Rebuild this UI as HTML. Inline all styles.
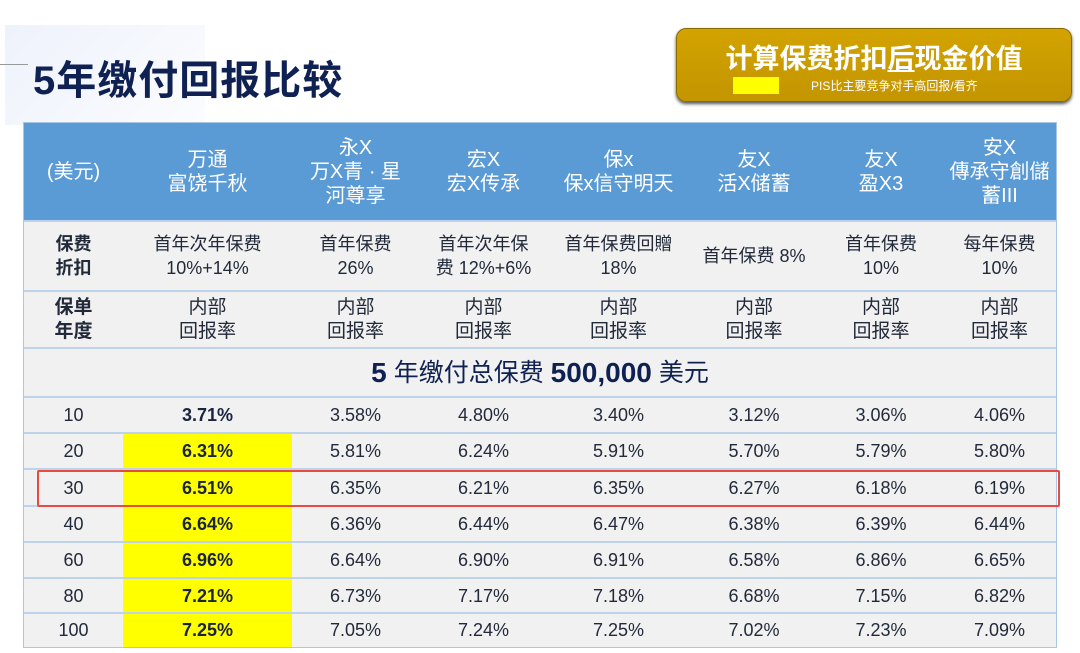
<!DOCTYPE html>
<html><head><meta charset="utf-8">
<style>
body{margin:0;width:1080px;height:653px;background:#fff;position:relative;overflow:hidden;font-family:"Liberation Sans","Noto Sans CJK SC",sans-serif;}
.bgdeco{position:absolute;left:5px;top:25px;width:200px;height:100px;background:linear-gradient(135deg,#eef2fb,#fbfcff);}
#title{position:absolute;left:33px;top:48px;font-size:40px;font-weight:bold;color:#0f2152;letter-spacing:1px;}
#btn{position:absolute;left:676px;top:28px;width:394px;height:72px;border-radius:10px;background:linear-gradient(#d3a300,#c39500);box-shadow:0 2px 3px #555;border:1px solid #8a6a00;}
#btn .t{position:absolute;left:0;width:100%;top:8px;text-align:center;color:#fff;font-size:27px;font-weight:bold;}
#btn .sw{position:absolute;left:56px;top:48px;width:46px;height:17px;background:#ffff00;}
#btn .s{position:absolute;left:134px;top:48px;color:#fff;font-size:12px;}
#tbl{position:absolute;left:23px;top:122px;width:1032px;height:524px;background:#f1f1f1;border:1px solid #a9c6e4;}
.cell{position:absolute;text-align:center;display:flex;align-items:center;justify-content:center;line-height:24px;color:#222a3a;font-size:18px;}
.hline{position:absolute;left:0;width:1032px;height:2px;background:#bcd3ea;}
</style></head><body>
<div class="bgdeco"></div>
<div style="position:absolute;left:0;top:64px;width:28px;height:1px;background:#999"></div>
<div id="title">5年缴付回报比较</div>
<div id="btn">
 <div class="t">计算保费折扣<u>后</u>现金价值</div>
 <div class="sw"></div>
 <div class="s">PIS比主要竞争对手高回报/看齐</div>
</div>
<div id="tbl">
 <div style="position:absolute;left:0;top:0;width:1032px;height:98px;background:#5b9bd5"></div>
 <div style="position:absolute;left:99px;top:310px;width:169px;height:214px;background:#ffff00"></div>
</div>
<div style="position:absolute;left:37px;top:470px;width:1019px;height:33px;border:2px solid #e84a3f;border-radius:2px"></div>
<script>
const products=["(美元)","万通<br>富饶千秋","永X<br>万X青 · 星<br>河尊享","宏X<br>宏X传承","保x<br>保x信守明天","友X<br>活X储蓄","友X<br>盈X3","安X<br>傳承守創儲<br>蓄III"];
const discounts=["<b>保费<br>折扣</b>","首年次年保费<br>10%+14%","首年保费<br>26%","首年次年保<br>费 12%+6%","首年保费回贈<br>18%","首年保费 8%","首年保费<br>10%","每年保费<br>10%"];
const irrLabels=["<b>保单<br>年度</b>","内部<br>回报率","内部<br>回报率","内部<br>回报率","内部<br>回报率","内部<br>回报率","内部<br>回报率","内部<br>回报率"];
const years=["10","20","30","40","60","80","100"];
const returns=[
["3.71%","3.58%","4.80%","3.40%","3.12%","3.06%","4.06%"],
["6.31%","5.81%","6.24%","5.91%","5.70%","5.79%","5.80%"],
["6.51%","6.35%","6.21%","6.35%","6.27%","6.18%","6.19%"],
["6.64%","6.36%","6.44%","6.47%","6.38%","6.39%","6.44%"],
["6.96%","6.64%","6.90%","6.91%","6.58%","6.86%","6.65%"],
["7.21%","6.73%","7.17%","7.18%","6.68%","7.15%","6.82%"],
["7.25%","7.05%","7.24%","7.25%","7.02%","7.23%","7.09%"]];
const tbl=document.getElementById('tbl');
const colEdges=[0,99,268,395,524,665,795,919,1032];
const rowEdges=[0,98,168,225,274,310,346,383,419,455,490,524];
function cell(c,r,html,extra){
 const d=document.createElement('div');d.className='cell';
 d.style.left=colEdges[c]+'px';d.style.width=(colEdges[c+1]-colEdges[c])+'px';
 d.style.top=rowEdges[r]+'px';d.style.height=(rowEdges[r+1]-rowEdges[r])+'px';
 d.innerHTML=html;if(extra)Object.assign(d.style,extra);tbl.appendChild(d);return d;}
products.forEach((p,i)=>{const d=cell(i,0,p,{color:'#fff',fontSize:'20px'});

});
discounts.forEach((p,i)=>{const d=cell(i,1,p);

});
irrLabels.forEach((p,i)=>{const d=cell(i,2,p,{fontSize:'19px'});

});
const tot=document.createElement('div');tot.className='cell';
Object.assign(tot.style,{left:'0px',width:'1032px',top:rowEdges[3]+'px',height:(rowEdges[4]-rowEdges[3])+'px',fontSize:'25px',color:'#0f2152'});
tot.innerHTML='<b style="font-size:28px">5</b>&nbsp;年缴付总保费&nbsp;<b style="font-size:28px">500,000</b>&nbsp;美元';


tbl.appendChild(tot);
years.forEach((y,r)=>{const d=cell(0,4+r,y);


returns[r].forEach((v,c)=>{const e=cell(c+1,4+r,v,c===0?{fontWeight:'bold',color:'#1a2340'}:{});

});});
for(let i=1;i<rowEdges.length-1;i++){const h=document.createElement('div');h.className='hline';h.style.top=(rowEdges[i]-1)+'px';


tbl.appendChild(h);}
</script>
</body></html>
